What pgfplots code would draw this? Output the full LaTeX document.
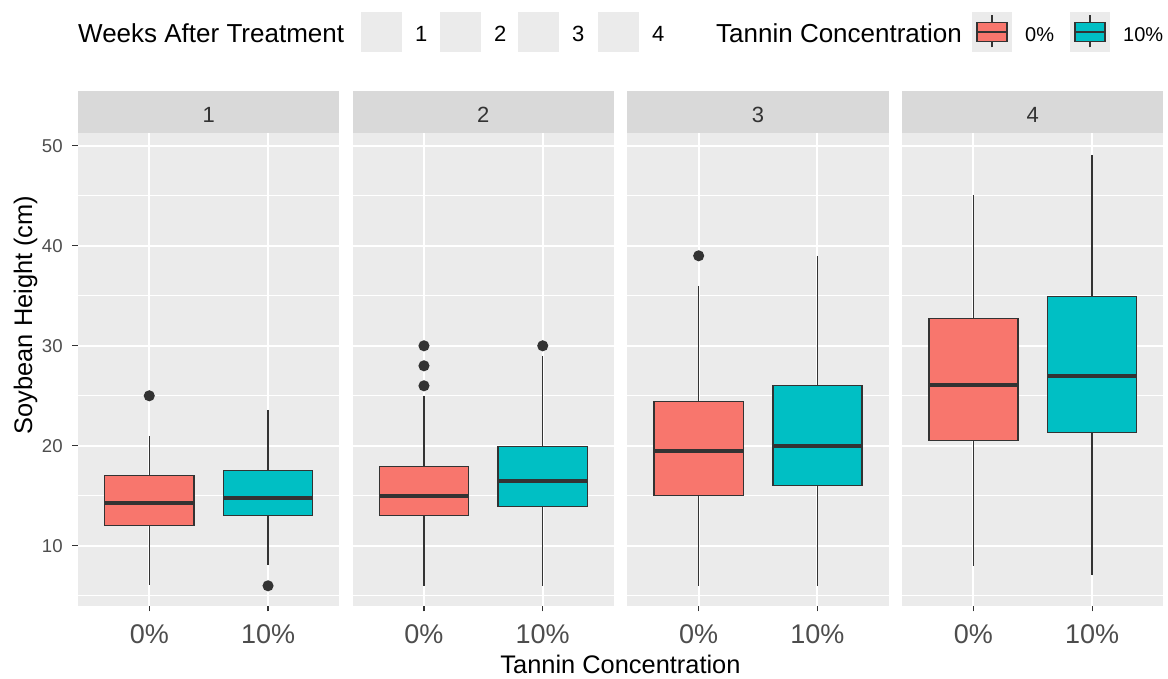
\documentclass[border=0pt]{standalone}
\usepackage{pgfplots}
\pgfplotsset{compat=1.18}
\usepgfplotslibrary{statistics}
\usepackage{fontspec}
\setmainfont{Liberation Sans}
\definecolor{ggred}{HTML}{F8766D}
\definecolor{ggteal}{HTML}{00BFC4}
\definecolor{ggbg}{HTML}{EBEBEB}
\definecolor{ggstrip}{HTML}{D9D9D9}
\definecolor{gg20}{HTML}{333333}
\definecolor{gg30}{HTML}{4D4D4D}
\pgfplotsset{
  panel/.style={
    anchor=south west, scale only axis, width=261.3pt, height=473pt,
    xmin=0.4, xmax=2.6, ymin=4.0, ymax=51.3,
    axis background/.style={fill=ggbg},
    axis line style={draw=none},
    xtick={1,2}, xticklabels={0\%,10\%},
    ytick={10,20,30,40,50},
    minor ytick={5,15,25,35,45},
    xmajorgrids, ymajorgrids, yminorgrids,
    major grid style={white, line width=1.9pt},
    minor grid style={white, line width=0.95pt},
    tick align=outside,
    xtick pos=bottom, ytick pos=left,
    major tick length=5.5pt, minor tick length=0pt,
    tick style={gg20, line width=1.1pt},
    /pgf/number format/assume math mode=true,
    xticklabel style={font=\fontsize{27}{27}\selectfont, text=gg30, anchor=base, inner sep=0pt, yshift=-32.5pt},
    yticklabel style={font=\fontsize{18.6}{18.6}\selectfont, text=gg30, anchor=east, inner sep=0pt, xshift=-9.7pt},
  },
  nolab/.style={yticklabels={}, y tick style={draw=none}},
  ggbox/.style={
    boxplot/draw direction=y,
    boxplot/box extend=0.75,
    boxplot/whisker extend=0,
    boxplot/every median/.style={draw=gg20, line width=3.8pt},
    draw=gg20, line width=1.4pt, fill=#1,
    mark=*, mark size=4.8pt, mark options={fill=gg20, draw=none},
  },
}
\begin{document}
\begin{tikzpicture}[x=1pt,y=1pt]
\useasboundingbox (0,0) rectangle (1168,679);
% ---------- panel 1
\begin{axis}[panel, at={(78pt,73.2pt)}]
\addplot[ggbox=ggred, boxplot prepared={draw position=1, lower whisker=6.1, lower quartile=12, median=14.25, upper quartile=17, upper whisker=21}] table[row sep=\\, y=y] {y\\ 25\\};
\addplot[ggbox=ggteal, boxplot prepared={draw position=2, lower whisker=8.1, lower quartile=13.05, median=14.8, upper quartile=17.5, upper whisker=23.6}] table[row sep=\\, y=y] {y\\ 6\\};
\end{axis}
% ---------- panel 2
\begin{axis}[panel, nolab, at={(352.7pt,73.2pt)}]
\addplot[ggbox=ggred, boxplot prepared={draw position=1, lower whisker=6, lower quartile=13, median=15, upper quartile=17.9, upper whisker=25}] table[row sep=\\, y=y] {y\\ 26\\ 28\\ 30\\};
\addplot[ggbox=ggteal, boxplot prepared={draw position=2, lower whisker=6, lower quartile=13.9, median=16.5, upper quartile=19.9, upper whisker=29}] table[row sep=\\, y=y] {y\\ 30\\};
\end{axis}
% ---------- panel 3
\begin{axis}[panel, nolab, at={(627.4pt,73.2pt)}]
\addplot[ggbox=ggred, boxplot prepared={draw position=1, lower whisker=6, lower quartile=15, median=19.5, upper quartile=24.45, upper whisker=36}] table[row sep=\\, y=y] {y\\ 39\\};
\addplot[ggbox=ggteal, boxplot prepared={draw position=2, lower whisker=6, lower quartile=16, median=20, upper quartile=26, upper whisker=39}] coordinates {};
\end{axis}
% ---------- panel 4
\begin{axis}[panel, nolab, at={(902.1pt,73.2pt)}]
\addplot[ggbox=ggred, boxplot prepared={draw position=1, lower whisker=8, lower quartile=20.5, median=26.1, upper quartile=32.7, upper whisker=45.1}] coordinates {};
\addplot[ggbox=ggteal, boxplot prepared={draw position=2, lower whisker=7.05, lower quartile=21.3, median=27, upper quartile=34.9, upper whisker=49.1}] coordinates {};
\end{axis}
% ---------- strips
\foreach \l/\t in {78/1, 352.7/2, 627.4/3, 902.1/4}{
  \fill[ggstrip] (\l,546.2) rectangle (\l+261.3,588.3);
  \node[anchor=base, inner sep=0pt, text=gg20, font=\fontsize{22}{22}\selectfont] at (\l+130.65,556.2) {\t};
}
% ---------- axis titles
\node[anchor=base, inner sep=0pt, font=\fontsize{25.4}{25.4}\selectfont] at (620.5,5) {Tannin Concentration};
\node[anchor=base, inner sep=0pt, rotate=90, font=\fontsize{25.4}{25.4}\selectfont] at (32,364) {Soybean Height (cm)};
% ---------- legend
\node[anchor=base west, inner sep=0pt, font=\fontsize{26}{26}\selectfont] at (78,636.3) {Weeks After Treatment};
\foreach \k/\t in {361/1, 440/2, 518/3, 598/4}{
  \fill[ggbg] (\k,627.3) rectangle (\k+41,667.3);
  \node[anchor=base west, inner sep=0pt, font=\fontsize{22}{22}\selectfont] at (\k+54,637.3) {\t};
}
\node[anchor=base west, inner sep=0pt, font=\fontsize{26}{26}\selectfont] at (716,636.3) {Tannin Concentration};
\foreach \k/\c/\t in {972/ggred/0\%, 1070/ggteal/10\%}{
  \fill[ggbg] (\k,627.3) rectangle (\k+40,667.3);
  \draw[gg20, line width=1.2pt] (\k+20,631.7) -- (\k+20,664);
  \draw[gg20, line width=1.4pt, fill=\c] (\k+5,637.3) rectangle (\k+35,656.7);
  \draw[gg20, line width=1.4pt] (\k+5,647) -- (\k+35,647);
  \node[anchor=base west, inner sep=0pt, font=\fontsize{20}{20}\selectfont] at (\k+53,637.3) {\t};
}
\end{tikzpicture}
\end{document}
